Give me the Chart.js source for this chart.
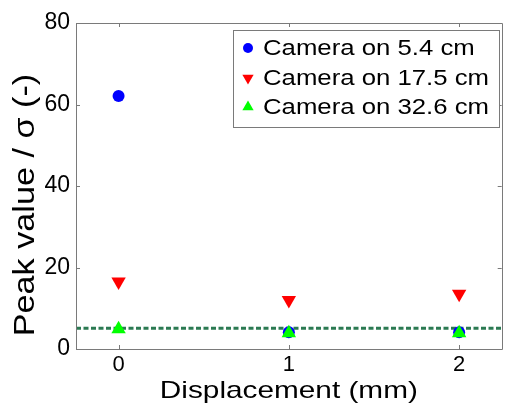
<!DOCTYPE html>
<html>
<head>
<meta charset="utf-8">
<script src="https://cdn.jsdelivr.net/npm/chart.js@4/dist/chart.umd.min.js"></script>
<style>
html,body{margin:0;padding:0;background:#fff;overflow:hidden;width:506px;height:408px;}
canvas{display:block;}
</style>
</head>
<body>
<canvas id="c" width="510" height="408"></canvas>
<script>
// ---- data ----
const displacement = [0, 1, 2];
const cam54 = [62.1, 4.1, 4.1];
const cam175 = [16.5, 12.0, 13.5];
const cam326 = [4.9, 3.9, 3.9];
const thresholdLevel = 5.1;
const xTickValues = [0, 1, 2];
const yTickValues = [0, 20, 40, 60, 80];
const seriesLabels = ['Camera on 5.4 cm', 'Camera on 17.5 cm', 'Camera on 32.6 cm'];
const xAxisTitle = 'Displacement (mm)';
const yAxisTitle = 'Peak value / σ (-)';

const FONT = "'Liberation Sans', Arial, sans-serif";
const AXIS_COLOR = '#7a7a7a';

const pts = arr => displacement.map((x, i) => ({x: x, y: arr[i]}));

function stretchedText(ctx, text, x, y, size, sx, align, rot) {
  ctx.save();
  ctx.font = size + 'px ' + FONT;
  ctx.textAlign = align;
  ctx.translate(x, y);
  if (rot) ctx.rotate(rot);
  ctx.scale(sx, 1);
  ctx.fillText(text, 0, 0);
  ctx.restore();
}

const framePlugin = {
  id: 'frame',
  afterDraw(chart) {
    const ctx = chart.ctx, a = chart.chartArea;
    const xs = chart.scales.x, ys = chart.scales.y;
    ctx.save();
    ctx.strokeStyle = AXIS_COLOR;
    ctx.lineWidth = 1;
    ctx.beginPath();
    ctx.rect(Math.round(a.left) + 0.5, Math.round(a.top) + 0.5, Math.round(a.right - a.left), Math.round(a.bottom - a.top));
    const tl = 4;
    xTickValues.forEach(v => {
      const px = Math.round(xs.getPixelForValue(v)) + 0.5;
      ctx.moveTo(px, a.bottom); ctx.lineTo(px, a.bottom - tl);
      ctx.moveTo(px, a.top); ctx.lineTo(px, a.top + tl);
    });
    yTickValues.forEach(v => {
      const py = Math.round(ys.getPixelForValue(v)) + 0.5;
      ctx.moveTo(a.left, py); ctx.lineTo(a.left + tl, py);
      ctx.moveTo(a.right, py); ctx.lineTo(a.right - tl, py);
    });
    ctx.stroke();

    // axis titles
    ctx.fillStyle = '#000';
    ctx.textBaseline = 'alphabetic';
    stretchedText(ctx, xAxisTitle, (a.left + a.right) / 2, 398, 24, 1.24, 'center', 0);
    ctx.textBaseline = 'middle';
    stretchedText(ctx, yAxisTitle, 26, 205, 30, 1.14, 'center', -Math.PI / 2);

    // legend
    const bx = 233.5, by = 30.5, bw = 266, bh = 97;
    ctx.fillStyle = '#fff';
    ctx.fillRect(bx, by, bw, bh);
    ctx.strokeStyle = AXIS_COLOR;
    ctx.strokeRect(bx, by, bw, bh);
    const rows = [48, 78, 107];
    ctx.textBaseline = 'middle';
    [0, 1, 2].forEach(i => {
      const ds = chart.data.datasets[i];
      const y = rows[i];
      ctx.fillStyle = ds.backgroundColor;
      ctx.strokeStyle = ds.backgroundColor;
      Chart.helpers.drawPoint(ctx, {
        pointStyle: ds.pointStyle, radius: ds.pointStyle === 'circle' ? 5 : 6.5,
        rotation: ds.rotation || 0, borderWidth: 0
      }, 248, y);
      ctx.fillStyle = '#000';
      stretchedText(ctx, ds.label, 263, y + 1, 22, 1.17, 'left', 0);
    });
    ctx.restore();
  }
};

new Chart(document.getElementById('c'), {
  type: 'scatter',
  data: {
    datasets: [
      {label: seriesLabels[0], data: pts(cam54), backgroundColor: '#0000ff', borderColor: '#0000ff',
       pointStyle: 'circle', pointRadius: 6, borderWidth: 0, order: 3},
      {label: seriesLabels[1], data: pts(cam175), backgroundColor: '#ff0000', borderColor: '#ff0000',
       pointStyle: 'triangle', pointRadius: 8.3, rotation: 180, pointRotation: 180, borderWidth: 0, order: 2},
      {label: seriesLabels[2], data: pts(cam326), backgroundColor: '#00ff00', borderColor: '#00ff00',
       pointStyle: 'triangle', pointRadius: 8.3, borderWidth: 0, order: 1},
      {type: 'line', label: 'threshold', data: [{x: -0.25, y: thresholdLevel}, {x: 2.25, y: thresholdLevel}],
       borderColor: '#2b7a52', borderWidth: 3, borderDash: [5, 2.5], pointRadius: 0, fill: false, order: 4}
    ]
  },
  options: {
    responsive: false,
    animation: false,
    layout: {padding: {top: 23, right: 2, left: 0, bottom: 0}},
    plugins: {legend: {display: false}, tooltip: {enabled: false}},
    scales: {
      x: {
        type: 'linear', min: -0.25, max: 2.25,
        afterBuildTicks: s => { s.ticks = xTickValues.map(v => ({value: v})); },
        afterFit: s => { s.height = 59; },
        grid: {display: false, drawTicks: false},
        border: {display: false},
        ticks: {color: '#000', font: {family: FONT, size: 22}, padding: 3},
        title: {display: false}
      },
      y: {
        type: 'linear', min: 0, max: 80,
        afterBuildTicks: s => { s.ticks = yTickValues.map(v => ({value: v})); },
        afterFit: s => { s.width = 76; },
        grid: {display: false, drawTicks: false},
        border: {display: false},
        ticks: {color: '#000', font: {family: FONT, size: 23}, padding: 6},
        title: {display: false}
      }
    }
  },
  plugins: [framePlugin]
});
</script>
</body>
</html>
